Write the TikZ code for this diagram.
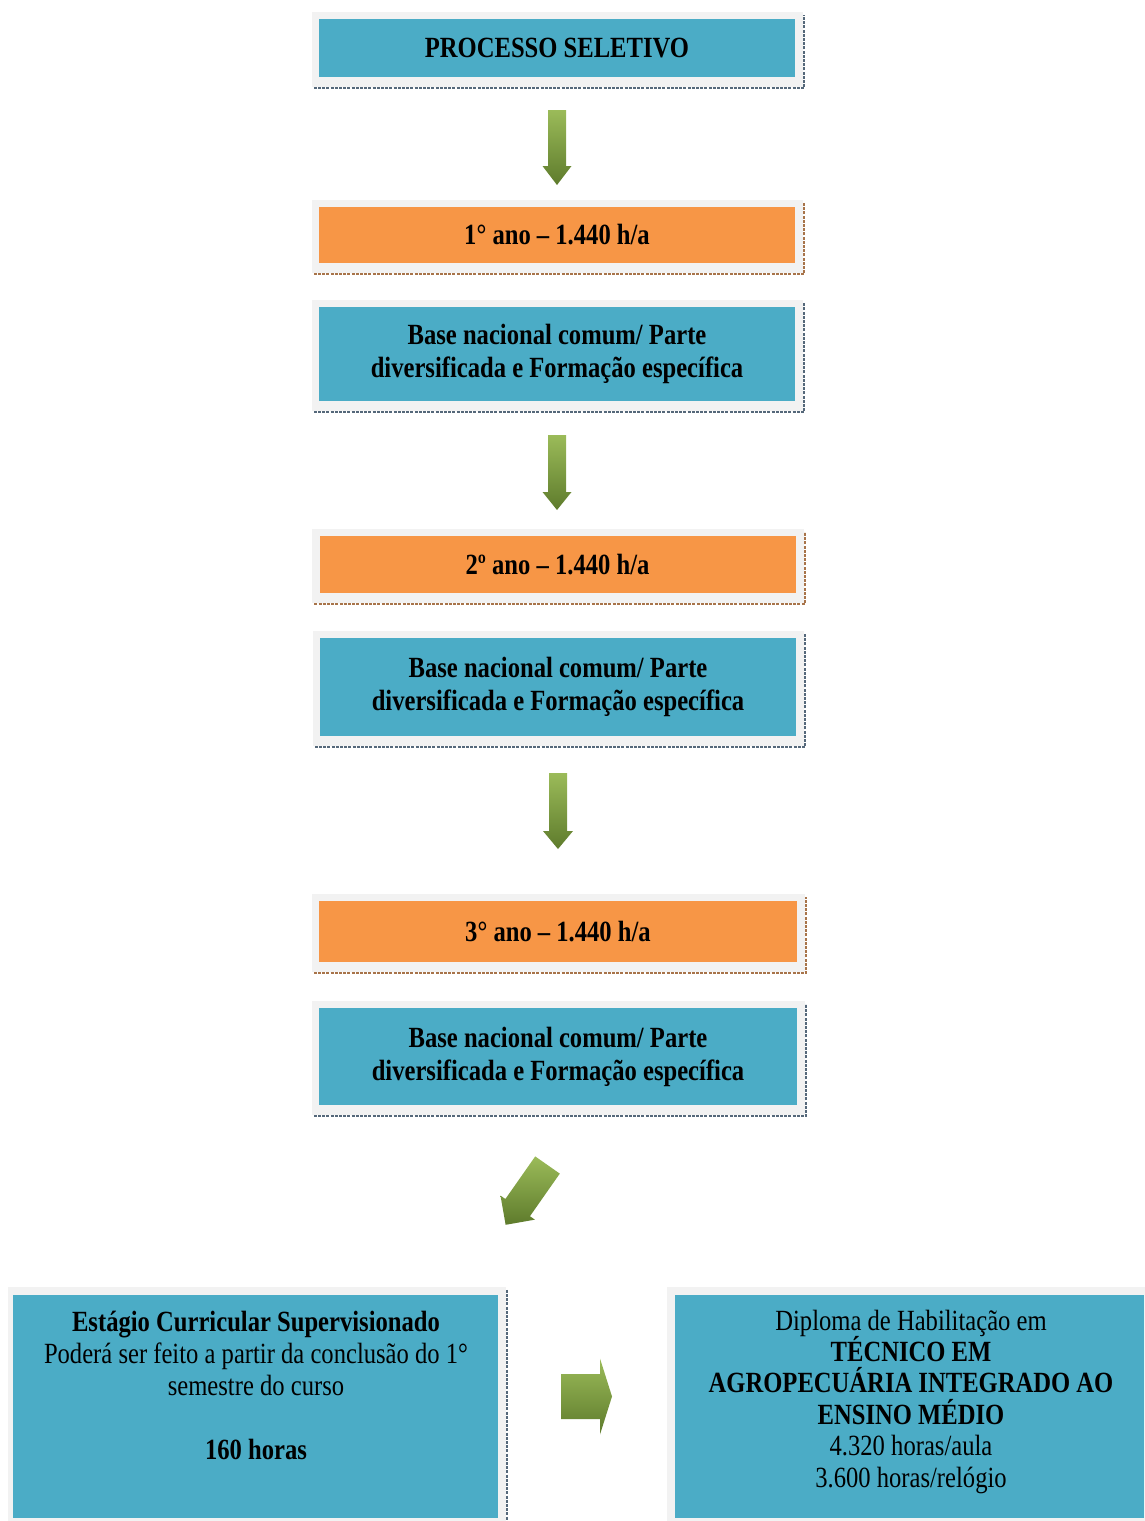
\documentclass[tikz,border=0pt]{standalone}
\usepackage{fontspec}
\setmainfont{Liberation Serif}[FakeStretch=0.84]
\usetikzlibrary{calc,backgrounds}
\definecolor{boxteal}{HTML}{4BACC6}
\definecolor{boxorange}{HTML}{F79646}
\definecolor{framegray}{HTML}{F2F2F2}
\definecolor{shadeteal}{HTML}{55687A}
\definecolor{shadeorange}{HTML}{A8744A}
\definecolor{arrowlight}{HTML}{9BBB59}
\definecolor{arrowdark}{HTML}{5E7B2C}
\tikzset{
  txt/.style={font=\fontsize{29.3}{32}\selectfont, align=center, inner sep=0pt, text=black},
  tbox/.style={fill=boxteal, draw=none, inner sep=0pt, minimum width=476, txt, font=\fontsize{29.3}{33}\selectfont\bfseries},
  obox/.style={fill=boxorange, draw=none, inner sep=0pt, minimum width=476, txt, font=\fontsize{29.3}{33}\selectfont\bfseries},
  shadowline/.style={line width=2.2pt, dash pattern=on 3pt off 1.2pt},
  pics/garrow/.style n args={4}{code={
    \shade[top color=arrowlight, bottom color=arrowdark]
      (-#1,0) -- (#1,0) -- (#1,{#3-#4}) -- (#2,{#3-#4}) -- (0,#3)
      -- (-#2,{#3-#4}) -- (-#1,{#3-#4}) -- cycle;
  }}
}
\newcommand\myboxframe[2]{%
  \begin{scope}[on background layer]
    \fill[framegray] ($(#1.north west)+(-7,-7)$) rectangle ($(#1.south east)+(8,10)$);
    \draw[shadowline, draw=#2] ($(#1.south west)+(-5,11)$) -- ($(#1.south east)+(9,11)$) -- ($(#1.north east)+(9,-4)$);
  \end{scope}}
\begin{document}
\begin{tikzpicture}[x=1pt,y=-1pt]
\useasboundingbox (0,0) rectangle (1144,1521);

% main column
\node[tbox, minimum height=58] (P) at (557,48) {PROCESSO SELETIVO};
\node[obox, minimum height=56] (A1) at (557,235) {1° ano – 1.440 h/a};
\node[tbox, minimum height=94] (B1) at (557,354) {Base nacional comum/ Parte\\diversificada e Formação específica};
\node[obox, minimum height=57] (A2) at (557.5,564.5) {2º ano – 1.440 h/a};
\node[tbox, minimum height=98] (B2) at (558,687) {Base nacional comum/ Parte\\diversificada e Formação específica};
\node[obox, minimum height=61, minimum width=478] (A3) at (558,931.5) {3° ano – 1.440 h/a};
\node[tbox, minimum height=97, minimum width=478] (B3) at (558,1056.5) {Base nacional comum/ Parte\\diversificada e Formação específica};

\myboxframe{P}{shadeteal}
\myboxframe{A1}{shadeorange}
\myboxframe{B1}{shadeteal}
\myboxframe{A2}{shadeorange}
\myboxframe{B2}{shadeteal}
\myboxframe{A3}{shadeorange}
\myboxframe{B3}{shadeteal}

% bottom boxes
\node[fill=boxteal, inner sep=0pt, minimum width=485, minimum height=223] (L) at (255.5,1406.5) {};
\node[fill=boxteal, inner sep=0pt, minimum width=469, minimum height=223] (R) at (909.5,1406.5) {};
\begin{scope}[on background layer]
  \fill[framegray] ($(L.north west)+(-5,-8)$) rectangle ($(L.south east)+(8,10)$);
  \fill[framegray] ($(R.north west)+(-8,-8)$) rectangle ($(R.south east)+(8,10)$);
\end{scope}
\draw[shadowline, draw=shadeteal] ($(L.north east)+(9,-5)$) -- ($(L.south east)+(9,10)$);

\node[txt] (Ltext) at (256,1385) {\textbf{Estágio Curricular Supervisionado}\\
  Poderá ser feito a partir da conclusão do 1°\\
  semestre do curso\\[32pt]
  \textbf{160 horas}};
\node[txt, font=\fontsize{29.3}{31.4}\selectfont] (Rtext) at (911,1401.5) {Diploma de Habilitação em\\
  \textbf{TÉCNICO EM}\\
  \textbf{AGROPECUÁRIA INTEGRADO AO}\\
  \textbf{ENSINO MÉDIO}\\
  4.320 horas/aula\\
  3.600 horas/relógio};

% arrows
\pic (ar1) at (557,110) {garrow={9}{14.5}{75}{19}};
\pic (ar2) at (557,435) {garrow={9}{14.5}{75}{18}};
\pic (ar3) at (558,773) {garrow={9}{15}{76}{18}};
\pic[rotate=-35] (ar4) at (547.5,1165) {garrow={15}{21}{73}{21}};
\pic[rotate=90] (ar5) at (561,1396.5) {garrow={22.5}{38}{51}{12}};
\end{tikzpicture}
\end{document}
